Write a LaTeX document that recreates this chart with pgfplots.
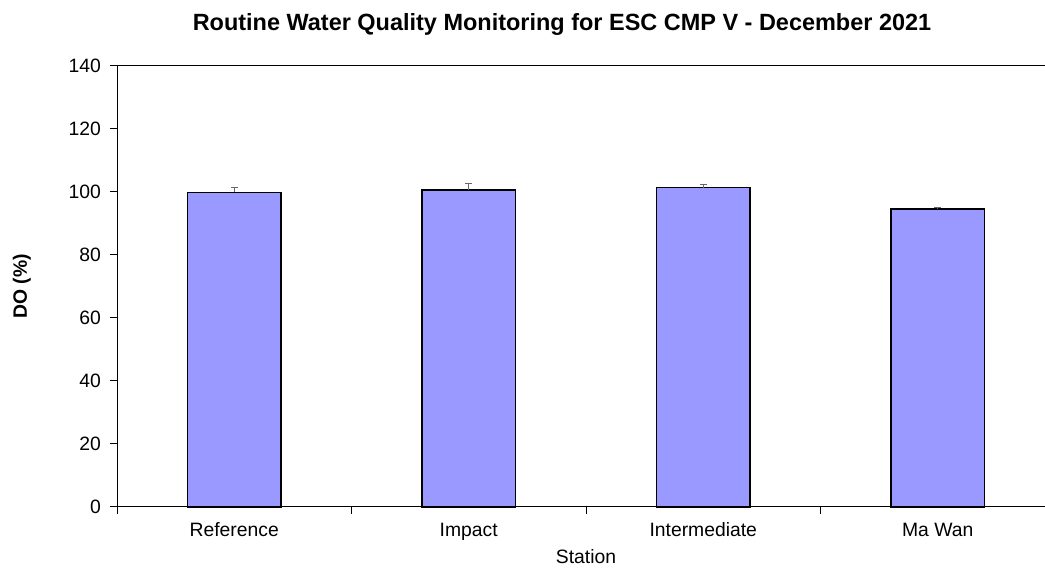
\documentclass[border=0pt]{standalone}
\usepackage{pgfplots}
\pgfplotsset{compat=1.18}
\usepackage{fontspec}
\setmainfont{Liberation Sans}
\definecolor{barblue}{HTML}{9999FF}
\begin{document}
\begin{tikzpicture}
\begin{axis}[
  name=ax,
  at={(87.75pt,47.25pt)}, anchor=south west,
  scale only axis,
  width=703.5pt, height=330.75pt,
  xmin=-0.5, xmax=3.5,
  ymin=0, ymax=140,
  ytick={0,20,...,140},
  xtick={0,1,2,3},
  xticklabels={Reference,Impact,Intermediate,Ma Wan},
  minor xtick={-0.5,0.5,1.5,2.5,3.5},
  major x tick style={draw=none},
  tick align=outside,
  tick pos=left,
  major tick length=5pt,
  minor tick length=5pt,
  every tick/.style={black, line width=0.75pt},
  axis line style={black, line width=0.75pt},
  /pgf/number format/assume math mode=true,
  tick label style={font=\fontsize{14.5}{17}\selectfont},
  xticklabel style={text height=1.6ex, text depth=0.3ex, anchor=north, yshift=-5pt},
  yticklabel style={xshift=-3.5pt},
  xlabel={Station},
  ylabel={\textbf{DO (\%)}},
  label style={font=\fontsize{14.5}{17}\selectfont},
  xlabel style={at={(axis description cs:0.5,-0.1134)}, anchor=center},
  ylabel style={at={(axis description cs:-0.1013,0.5)}, anchor=center},
  ybar, bar width=0.397,
  clip=false,
]
\addplot[fill=barblue, draw=black, line width=1.1pt,
  error bars/.cd, y dir=plus, y explicit,
  error bar style={black!60, line width=1pt},
  error mark options={rotate=90, mark size=2.6pt, black!60, line width=1pt}]
  coordinates {
  (0,99.9) +- (0,1.5)
  (1,100.6) +- (0,2.2)
  (2,101.4) +- (0,1.0)
  (3,94.6) +- (0,0.4)
};
\end{axis}
\node[font=\bfseries\fontsize{17.6}{20}\selectfont, anchor=center] at (421.5pt,409.5pt) {Routine Water Quality Monitoring for ESC CMP V - December 2021};
\pgfresetboundingbox
\useasboundingbox (0,0) rectangle (783.75pt,427.5pt);
\end{tikzpicture}
\end{document}
